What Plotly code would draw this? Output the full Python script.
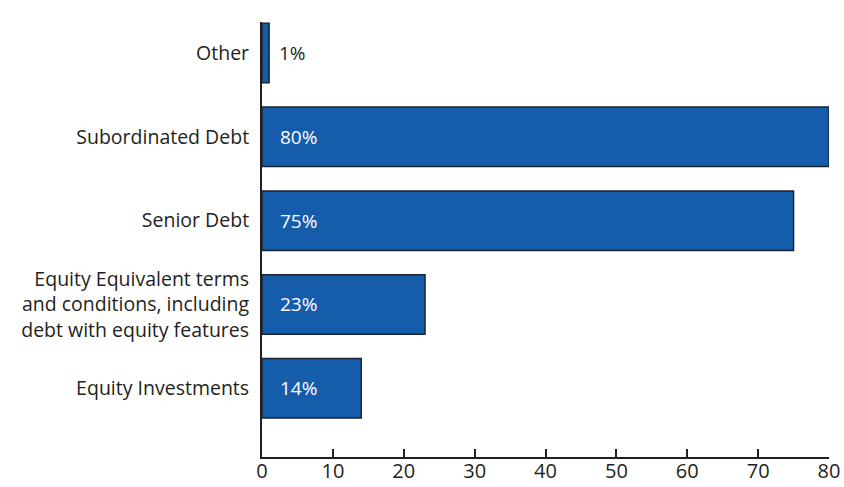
import plotly.graph_objects as go

categories = ["Equity Investments",
              "Equity Equivalent terms<br>and conditions, including<br>debt with equity features",
              "Senior Debt", "Subordinated Debt", "Other"]
values = [14, 23, 75, 80, 1]
labels = ["14%", "23%", "75%", "80%", "1%"]
x_ticks = [0, 10, 20, 30, 40, 50, 60, 70, 80]

FONT = "Open Sans"
DARK = "#231f20"
BLUE = "#155dab"

fig = go.Figure()
fig.add_trace(go.Bar(
    y=list(range(len(categories))), x=values, orientation="h",
    width=0.71,
    marker=dict(color=BLUE, line=dict(color="#1b2433", width=1.5)),
    hoverinfo="skip",
))

for i, (v, t) in enumerate(zip(values, labels)):
    inside = v > 5
    fig.add_annotation(
        x=v if not inside else 0, y=i, text=t, showarrow=False,
        xanchor="left", yanchor="middle",
        xshift=8 if not inside else 16,
        font=dict(family=FONT, size=19, color="white" if inside else DARK),
    )

fig.update_layout(
    width=844, height=487,
    margin=dict(l=262, r=15, t=22, b=30),
    paper_bgcolor="white", plot_bgcolor="white",
    showlegend=False,
    font=dict(family=FONT, size=19, color=DARK),
    xaxis=dict(
        range=[0, 80], tickvals=x_ticks, showgrid=False, zeroline=False,
        showline=True, linecolor=DARK, linewidth=2, automargin=False,
        ticks="inside", ticklen=8, tickwidth=2, tickcolor=DARK,
        ticklabelstandoff=-5,
        tickfont=dict(family=FONT, size=20, color=DARK),
    ),
    yaxis=dict(
        range=[-0.82, 4.37], tickvals=list(range(len(categories))),
        ticktext=categories, showgrid=False, zeroline=False, automargin=False,
        showline=True, linecolor=DARK, linewidth=2, ticks="",
        ticklabelstandoff=7,
        tickfont=dict(family=FONT, size=19.5, color=DARK),
    ),
)

fig.write_html("out.html")
